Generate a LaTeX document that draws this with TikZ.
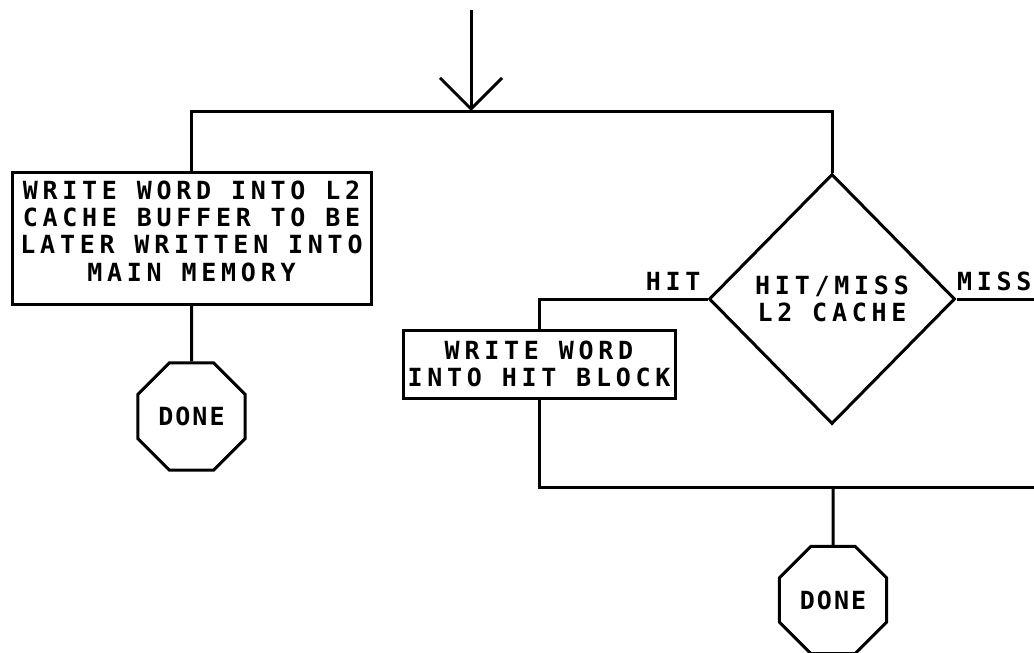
\documentclass[tikz,border=0pt]{standalone}
\usepackage{fontspec}
\newfontfamily\lerfont[LetterSpace=19]{DejaVu Sans Mono Bold}
\newfontfamily\donefont[LetterSpace=8]{DejaVu Sans Mono Bold}
\usetikzlibrary{shapes.geometric,arrows.meta}
\begin{document}
\begin{tikzpicture}[x=1pt,y=-1pt,
  line width=3pt,
  txt/.style={font=\lerfont\fontsize{25}{27.3}\selectfont, align=center},
  procbox/.style={draw, rectangle, inner sep=0pt, txt},
  stopoct/.style={draw, regular polygon, regular polygon sides=8, minimum size=116pt, inner sep=0pt, font=\donefont\fontsize{25}{27.5}\selectfont},
  decision/.style={draw, diamond, minimum width=246pt, minimum height=250pt, inner sep=0pt, txt},
  lbl/.style={txt, inner sep=0pt}
]
\clip (0,0) rectangle (1034,653);
\node[procbox, minimum width=359pt, minimum height=132pt,
  label={[txt, inner sep=0pt, yshift=7pt]center:{WRITE WORD INTO L2\\CACHE BUFFER TO BE\\LATER WRITTEN INTO\\MAIN MEMORY}}] (wbuf) at (191.5,238) {};
\node[stopoct] (done1) at (191.5,416.5) {DONE};
\node[decision] (hm) at (832,299) {HIT/MISS\\L2 CACHE};
\node[procbox, minimum width=272pt, minimum height=68pt] (whit) at (539,364) {WRITE WORD\\INTO HIT BLOCK};
\node[stopoct] (done2) at (833,600) {DONE};
\node[lbl, anchor=base east] (hitl) at (702,290) {HIT};
\node[lbl, anchor=base east] (missl) at (1033,290) {MISS};
\coordinate (src) at (471,10);
\coordinate (jt) at (471,111);
\coordinate (tl) at (191.5,111);
\coordinate (tr) at (832,111);
\coordinate (jb) at (539,487);
\coordinate (jbm) at (833,487);
\coordinate (jbr) at (1034,487);
\coordinate (missr) at (1034,299);
\draw[-{Straight Barb[length=31pt,width=62pt]}] (src) -- (jt);
\draw (wbuf.north) -- (tl) -- (tr) -- (hm.north);
\draw (wbuf.south) -- (done1.north);
\draw (hm.west) -| (whit.north);
\draw (hm.east) -- (missr);
\draw (whit.south) -- (jb) -- (jbr);
\draw (jbm) -- (done2.north);
\end{tikzpicture}
\end{document}
